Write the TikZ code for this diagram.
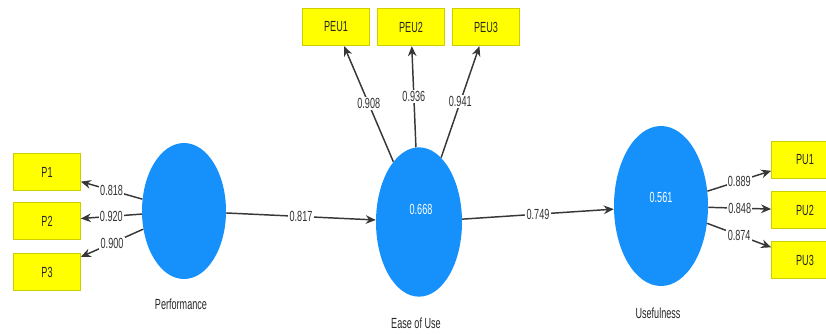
\documentclass[tikz,border=0pt]{standalone}
\usepackage{fontspec}
\setmainfont{Liberation Sans}[FakeStretch=0.62]
\usepackage{tikz}
\usetikzlibrary{arrows.meta,shapes.geometric}
\definecolor{LvBlue}{RGB}{22,145,252}
\definecolor{IndYellow}{RGB}{255,255,0}
\definecolor{IndEdge}{RGB}{205,205,0}
\definecolor{PathGray}{RGB}{55,55,55}

\begin{document}
\begin{tikzpicture}[
  x=0.75pt, y=-0.75pt,
  latent/.style={
    ellipse,
    fill=LvBlue,
    draw=none,
    text=white,
    font=\fontsize{11}{13}\selectfont,
    inner sep=0pt,
  },
  indicator/.style={
    fill=IndYellow,
    draw=IndEdge,
    line width=0.8pt,
    text=black!85,
    font=\fontsize{11}{13}\selectfont,
    minimum width=50pt,
    minimum height=28pt,
    inner sep=2pt,
  },
  lvname/.style={font=\fontsize{11}{13}\selectfont, text=black!85},
  arr/.style={-{Stealth[length=7.5pt,width=6.5pt]}, line width=1.1pt, PathGray},
  coef/.style={fill=white, inner sep=1pt, font=\fontsize{11}{13}\selectfont, text=black!80},
]
  \useasboundingbox (0,0) rectangle (826,333);

  % constructs
  \node[latent, minimum width=63pt, minimum height=102pt] (perf) at (184,211) {};
  \node[latent, minimum width=64.5pt, minimum height=112pt] (ease) at (419,222) {};
  \node[latent, minimum width=70.5pt, minimum height=120pt] (use) at (661,206) {};
  \node[text=white, font=\fontsize{11}{13}\selectfont] (easer2) at (421,209) {0.668};
  \node[text=white, font=\fontsize{11}{13}\selectfont] (user2) at (661,197) {0.561};

  \node[lvname] (perfname) at (181,304) {Performance};
  \node[lvname] (easename) at (416,323) {Ease of Use};
  \node[lvname] (usename) at (658,313) {Usefulness};

  % indicators
  \node[indicator] (p1) at (47,172) {P1};
  \node[indicator] (p2) at (47,221) {P2};
  \node[indicator] (p3) at (47,272) {P3};
  \node[indicator] (peu1) at (336,27) {PEU1};
  \node[indicator] (peu2) at (411,27) {PEU2};
  \node[indicator] (peu3) at (486,27) {PEU3};
  \node[indicator] (pu1) at (805,160) {PU1};
  \node[indicator] (pu2) at (805,210) {PU2};
  \node[indicator] (pu3) at (805,260) {PU3};

  % outer loadings
  \draw[arr] (perf) -- node[coef] {0.818} (p1);
  \draw[arr] (perf) -- node[coef] {0.920} (p2);
  \draw[arr] (perf) -- node[coef] {0.900} (p3);
  \draw[arr] (ease) -- node[coef] {0.908} (peu1);
  \draw[arr] (ease) -- node[coef] {0.936} (peu2);
  \draw[arr] (ease) -- node[coef] {0.941} (peu3);
  \draw[arr] (use) -- node[coef] {0.889} (pu1);
  \draw[arr] (use) -- node[coef] {0.848} (pu2);
  \draw[arr] (use) -- node[coef] {0.874} (pu3);

  % structural paths
  \draw[arr] (perf) -- node[coef] {0.817} (ease);
  \draw[arr] (ease) -- node[coef] {0.749} (use);
\end{tikzpicture}
\end{document}
